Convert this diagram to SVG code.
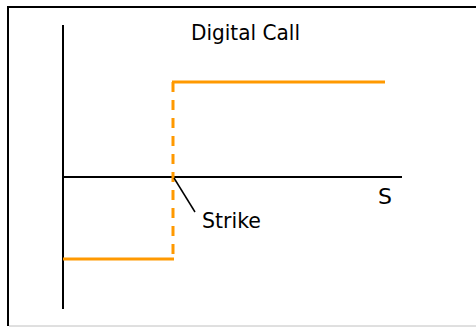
<svg xmlns="http://www.w3.org/2000/svg" width="476" height="327" viewBox="0 0 476 327">
<style>
.axis{stroke:#000;stroke-width:2;fill:none}
.pay{stroke:#FF9900;stroke-width:3;fill:none}
.dash{stroke:#FF9900;stroke-width:3;fill:none;stroke-dasharray:10,8}
.lbl{font-family:"DejaVu Sans",Verdana,sans-serif;font-size:22px;fill:#000}
</style>
<rect x="0" y="0" width="476" height="327" fill="#fff"/>
<g id="frame">
<line x1="8" y1="7" x2="476" y2="7" stroke="#000" stroke-width="2"/>
<line x1="8" y1="6" x2="8" y2="326" stroke="#000" stroke-width="2"/>
<line x1="9" y1="326" x2="476" y2="326" stroke="#c0c0c0" stroke-width="1"/>
</g>
<g id="axes">
<line class="axis" x1="63" y1="25" x2="63" y2="309"/>
<line class="axis" x1="63" y1="177" x2="402" y2="177"/>
</g>
<g id="payoff">
<line class="pay" x1="63" y1="259" x2="174" y2="259"/>
<line class="dash" x1="173" y1="82" x2="173" y2="259"/>
<line class="pay" x1="172" y1="82" x2="385" y2="82"/>
</g>
<g id="connectors">
<line x1="174" y1="178" x2="195" y2="212" stroke="#000" stroke-width="1.5"/>
</g>
<g id="labels">
<text class="lbl" x="191" y="40" textLength="109" lengthAdjust="spacingAndGlyphs">Digital Call</text>
<text class="lbl" x="202" y="228" textLength="59" lengthAdjust="spacingAndGlyphs">Strike</text>
<text class="lbl" x="378" y="204">S</text>
</g>
</svg>
